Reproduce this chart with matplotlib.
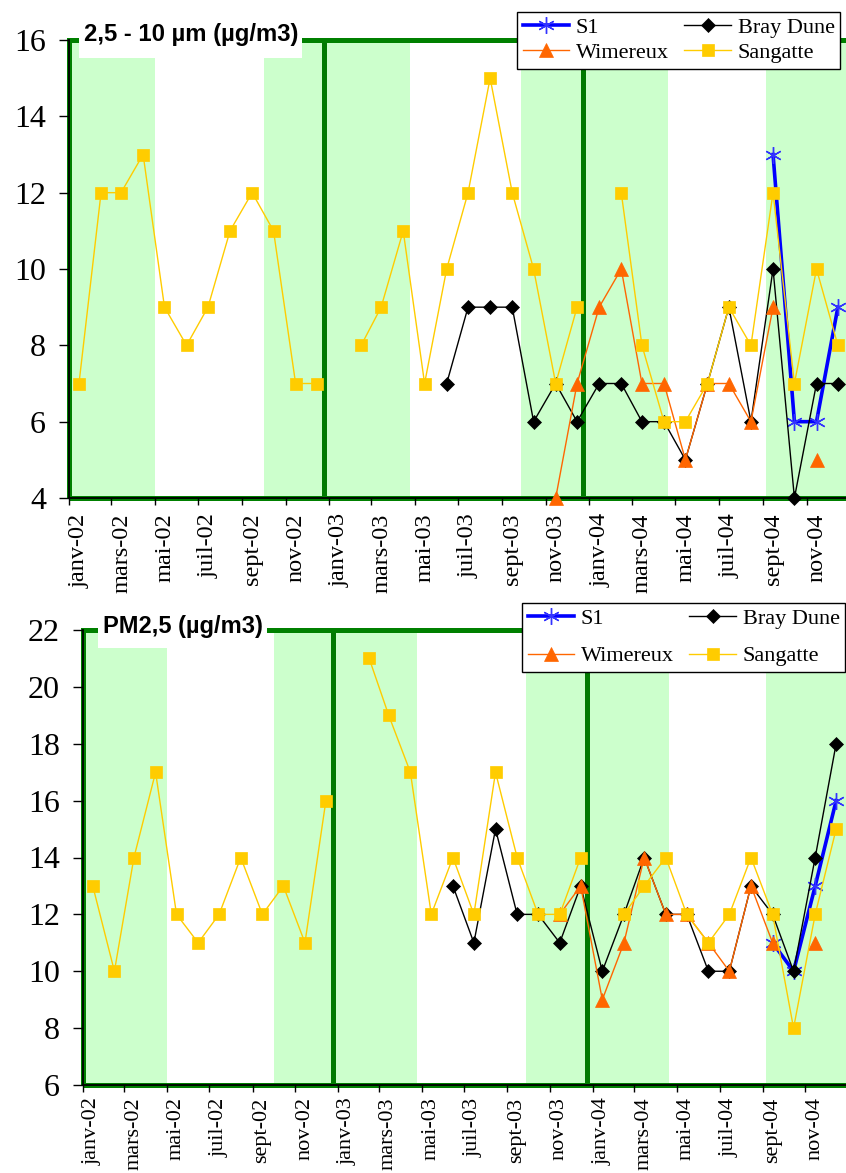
import numpy as np
import matplotlib
matplotlib.use("Agg")
import matplotlib.pyplot as plt
from matplotlib.patches import Rectangle
from datetime import date

plt.rcParams['font.family'] = ['Liberation Serif', 'DejaVu Serif']

nan = np.nan

# ---------------- data ----------------
# one value per month, Jan 2002 .. Dec 2004 (plotted mid-month)
month_dates = [date(2002 + m // 12, m % 12 + 1, 15) for m in range(36)]

tick_dates = [date(2002 + k // 6, 2 * (k % 6) + 1, 1) for k in range(18)]
tick_labels = ["janv-02", "mars-02", "mai-02", "juil-02", "sept-02", "nov-02",
               "janv-03", "mars-03", "mai-03", "juil-03", "sept-03", "nov-03",
               "janv-04", "mars-04", "mai-04", "juil-04", "sept-04", "nov-04"]

series_names = ["S1", "Bray Dune", "Wimereux", "Sangatte"]

# 2,5 - 10 µm (µg/m3)
coarse_s1 = [nan] * 32 + [13, 6, 6, 9]
coarse_bray = [nan] * 17 + [7, 9, 9, 9, 6, 7, 6, 7, 7, 6, 6, 5, 7, 9, 6, 10, 4, 7, 7]
coarse_wimereux = [nan] * 22 + [4, 7, 9, 10, 7, 7, 5, 7, 7, 6, 9, nan, 5, nan]
coarse_sangatte = [7, 12, 12, 13, 9, 8, 9, 11, 12, 11, 7, 7, nan,
                   8, 9, 11, 7, 10, 12, 15, 12, 10, 7, 9, nan,
                   12, 8, 6, 6, 7, 9, 8, 12, 7, 10, 8]

# PM2,5 (µg/m3)
pm25_s1 = [nan] * 32 + [11, 10, 13, 16]
pm25_bray = [nan] * 17 + [13, 11, 15, 12, 12, 11, 13, 10, 12, 14, 12, 12, 10, 10, 13, 12, 10, 14, 18]
pm25_wimereux = [nan] * 22 + [12, 13, 9, 11, 14, 12, 12, 11, 10, 13, 11, nan, 11, nan]
pm25_sangatte = [13, 10, 14, 17, 12, 11, 12, 14, 12, 13, 11, 16, nan,
                 21, 19, 17, 12, 14, 12, 17, 14, 12, 12, 14, nan,
                 12, 13, 14, 12, 11, 12, 14, 12, 8, 12, 15]

# shaded (winter) periods and year separators
winter_starts = [date(2002, 1, 1), date(2002, 10, 2), date(2003, 9, 28), date(2004, 9, 5)]
winter_ends = [date(2002, 5, 1), date(2003, 4, 25), date(2004, 4, 20), date(2005, 1, 1)]
year_breaks = [date(2002, 12, 25), date(2003, 12, 24)]

# ---------------- styles ----------------
styles = {
    "S1": dict(color="#0000FF", lw=2.6, marker=(6, 2, 0), ms=12, mew=1.0,
               mec="#3333FF", mfc="#3333FF", zorder=4),
    "Bray Dune": dict(color="#000000", lw=1.0, marker="D", ms=7.5, mew=0.5,
                      mec="#000000", mfc="#000000", zorder=5),
    "Wimereux": dict(color="#FF6600", lw=1.0, marker="^", ms=9.5, mew=0.5,
                     mec="#FF6600", mfc="#FF6600", zorder=6),
    "Sangatte": dict(color="#FFCC00", lw=1.0, marker="s", ms=8.5, mew=0.5,
                     mec="#FFCC00", mfc="#FFCC00", zorder=7),
}

W, H = 846, 1173
fig = plt.figure(figsize=(W / 100, H / 100), dpi=100)


def px_rect(x0, y0, x1, y1):
    return [x0 / W, 1 - y1 / H, (x1 - x0) / W, (y1 - y0) / H]


def draw_panel(rect, values, ylim, yticks, title, title_box, title_pos, title_size,
               legend_anchor, labelspacing, xlabel_size, xlabel_pad):
    ax = fig.add_axes(px_rect(*rect))
    ax.set_xlim(date(2002, 1, 1), date(2005, 1, 1))
    ax.set_ylim(*ylim)
    for s, e in zip(winter_starts, winter_ends):
        ax.axvspan(s, e, facecolor="#CCFFCC", edgecolor="none", zorder=0)
    for d in year_breaks:
        ax.axvline(d, color="#007A00", lw=3.6, zorder=1)
    ax.add_patch(Rectangle((0, 0), 1, 1, transform=ax.transAxes, fill=False,
                           edgecolor="#008000", lw=3.6, clip_on=False, zorder=1.5))
    handles = {}
    for name, vals in zip(series_names, values):
        h, = ax.plot(month_dates, vals, label=name, clip_on=False, **styles[name])
        handles[name] = h

    for side in ("top", "right"):
        ax.spines[side].set_visible(False)
    for side in ("left", "bottom"):
        ax.spines[side].set_color("black")
        ax.spines[side].set_linewidth(1.3)
        ax.spines[side].set_zorder(2)

    ax.set_yticks(yticks)
    ax.set_yticklabels([str(v) for v in yticks])
    ax.tick_params(axis="y", direction="out", length=7.5, width=1.0, pad=9,
                   labelsize=23)
    ax.set_xticks(tick_dates)
    ax.set_xticklabels(tick_labels, rotation=90, ha="left", va="top")
    ax.tick_params(axis="x", direction="out", length=5, width=1.0, pad=xlabel_pad,
                   labelsize=xlabel_size)

    order = ["S1", "Wimereux", "Bray Dune", "Sangatte"]
    leg = ax.legend([handles[n] for n in order], order, ncol=2,
                    loc="upper left", bbox_to_anchor=legend_anchor,
                    bbox_transform=fig.transFigure, fontsize=16,
                    frameon=True, fancybox=False, framealpha=1,
                    edgecolor="black", borderpad=0.25, borderaxespad=0,
                    handlelength=2.1, handletextpad=0.3, columnspacing=0.7,
                    labelspacing=labelspacing, numpoints=1)
    leg.get_frame().set_linewidth(1.0)
    leg.set_zorder(20)

    # title with its white box
    bx0, by0, bx1, by1 = title_box
    fig.add_artist(Rectangle((bx0 / W, 1 - by1 / H), (bx1 - bx0) / W, (by1 - by0) / H,
                             transform=fig.transFigure, facecolor="white",
                             edgecolor="none", zorder=5))
    fig.text(title_pos[0] / W, 1 - title_pos[1] / H, title, ha="left", va="center",
             family=["Liberation Sans", "DejaVu Sans"], fontweight="bold",
             fontsize=title_size, zorder=6)
    return ax


draw_panel((69, 40, 850, 498),
           [coarse_s1, coarse_bray, coarse_wimereux, coarse_sangatte],
           (4, 16), [4, 6, 8, 10, 12, 14, 16],
           "2,5 - 10 µm (µg/m3)", (79, 14, 302, 58), (84, 35), 17.2,
           (517 / W, 1 - 12 / H), 0.2, 17.5, 6)

draw_panel((83, 630, 848, 1085),
           [pm25_s1, pm25_bray, pm25_wimereux, pm25_sangatte],
           (6, 22), [6, 8, 10, 12, 14, 16, 18, 20, 22],
           "PM2,5 (µg/m3)", (98, 604, 267, 648), (103, 627), 17.0,
           (522 / W, 1 - 603 / H), 0.75, 16, 4)

fig.savefig("out.png", dpi=100)
